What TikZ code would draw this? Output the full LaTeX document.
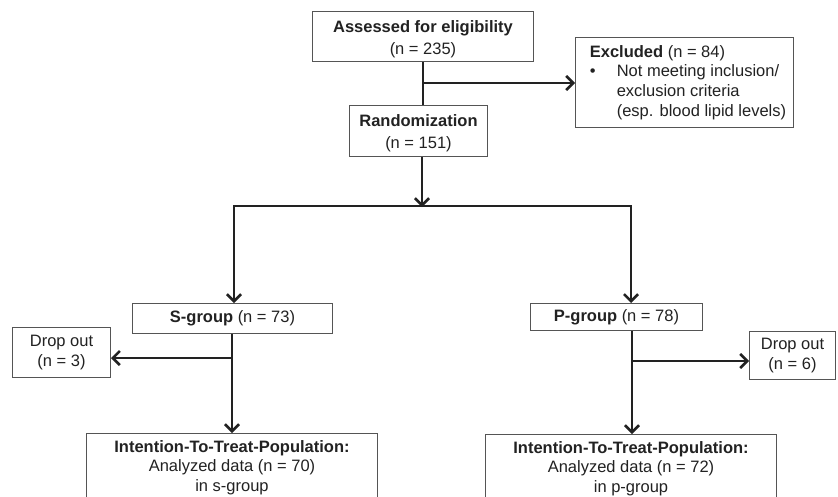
\documentclass[tikz,border=0pt]{standalone}
\usepackage{fontspec}
\setmainfont{Liberation Sans}
\usetikzlibrary{arrows.meta}
\definecolor{boxgray}{HTML}{555555}
\definecolor{txt}{HTML}{222222}
\begin{document}
\begin{tikzpicture}[x=1pt,y=-1pt,
  box/.style={draw=boxgray, line width=1pt, anchor=north west, inner sep=0pt, align=center, text=txt, font=\fontsize{16.5}{22}\selectfont},
  flow/.style={line width=2.8pt, draw=txt},
  tip/.tip={Straight Barb[length=7pt,width=14pt,line width=2.6pt]},
  arr/.style={flow, -tip},
  arrb/.style={flow, tip-tip}]
\useasboundingbox (0,0) rectangle (838,496);
\clip (0,0) rectangle (838,496);
\fill[white] (0,0) rectangle (838,496);

\node[box, minimum width=221pt, minimum height=50pt] (assess) at (312,11)
  {\rule{0pt}{17pt}\textbf{Assessed for eligibility}\\(n = 235)};
\node[box, minimum width=218pt, minimum height=90pt, align=left, font=\fontsize{16.5}{19.7}\selectfont] (excl) at (575,37)
  {\hspace*{11pt}\textbf{Excluded} (n = 84)\\
   \hspace*{11pt}\makebox[27pt][l]{•}Not meeting inclusion/\\
   \hspace*{38pt}exclusion criteria\\
   \hspace*{38pt}(esp. blood lipid levels)\hspace*{4pt}};
\node[box, minimum width=138pt, minimum height=51pt] (rand) at (349,105)
  {\rule{0pt}{16pt}\textbf{Randomization}\\(n = 151)};
\node[box, minimum width=200pt, minimum height=30pt] (sg) at (132,303)
  {\textbf{S-group} (n = 73)};
\node[box, minimum width=172pt, minimum height=27pt] (pg) at (530,303)
  {\textbf{P-group} (n = 78)};
\node[box, minimum width=98pt, minimum height=50pt, font=\fontsize{16.5}{20.5}\selectfont] (dropL) at (12,327)
  {Drop out\\(n = 3)};
\node[box, minimum width=86pt, minimum height=48pt, font=\fontsize{16.5}{20.5}\selectfont] (dropR) at (749,331)
  {Drop out\\(n = 6)};
\node[box, minimum width=291pt, minimum height=68pt, font=\fontsize{16.5}{19.5}\selectfont] (ittL) at (86,433)
  {\textbf{Intention-To-Treat-Population:}\\Analyzed data (n = 70)\\in s-group};
\node[box, minimum width=291pt, minimum height=68pt, font=\fontsize{16.5}{19.5}\selectfont] (ittR) at (485,434)
  {\textbf{Intention-To-Treat-Population:}\\Analyzed data (n = 72)\\in p-group};

\coordinate (j1) at (423,83);
\coordinate (bl) at (234,206);
\coordinate (bm) at (422,206);
\coordinate (br) at (631,206);
\coordinate (dl) at (232,358);
\coordinate (dr) at (632,361);

\draw[flow] (assess.south -| j1) -- (rand.north -| j1);
\draw[arr] (j1) -- (excl.west |- j1);
\draw[arr] (rand.south -| bm) -- ([yshift=-1pt]bm);
\draw[arrb, line join=miter] (sg.north -| bl) -- (bl) -- (br) -- (pg.north -| br);
\draw[flow] (sg.south -| dl) -- (dl);
\draw[arr] (dl) -- (dropL.east |- dl);
\draw[arr] (dl) -- (ittL.north -| dl);
\draw[flow] (pg.south -| dr) -- (dr);
\draw[arr] (dr) -- (dropR.west |- dr);
\draw[arr] (dr) -- (ittR.north -| dr);
\end{tikzpicture}
\end{document}
